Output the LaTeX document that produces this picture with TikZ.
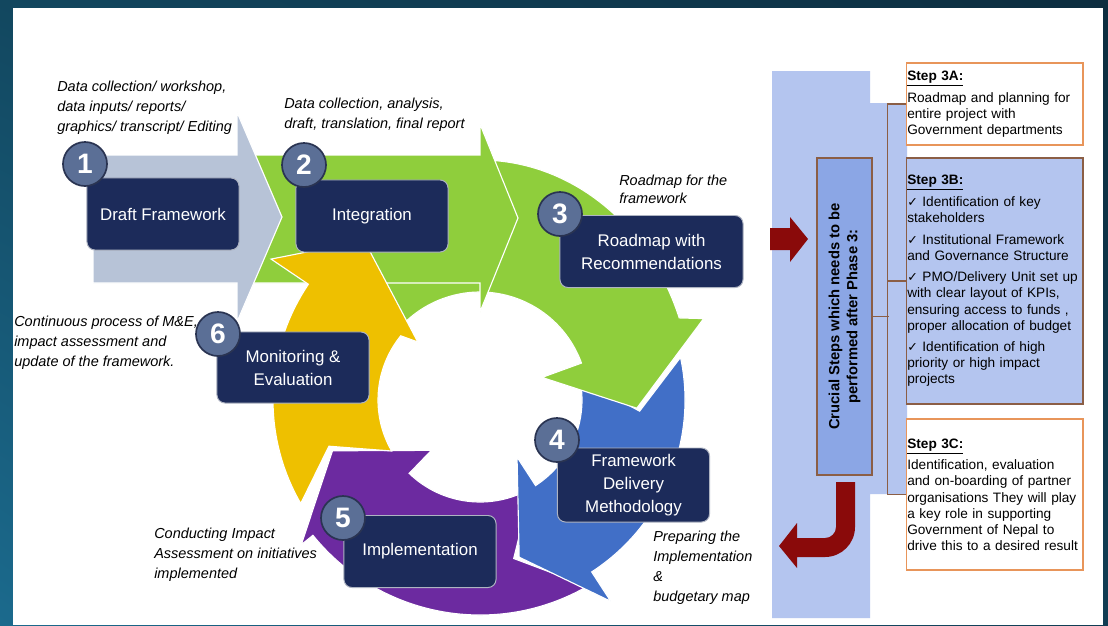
\documentclass[tikz,border=0pt]{standalone}
\usepackage{fontspec}
\setmainfont{Liberation Sans}
\newfontfamily\chkfont{DejaVu Sans}
\usetikzlibrary{calc,shadings}

\definecolor{bgA}{HTML}{12475F}
\definecolor{bgB}{HTML}{0C2D3F}
\definecolor{bgC}{HTML}{1B6A8D}
\definecolor{bgD}{HTML}{113D53}
\definecolor{navy}{HTML}{1C2B5A}
\definecolor{boxrim}{HTML}{AEB4C2}
\definecolor{numfill}{HTML}{5B6F96}
\definecolor{numrim}{HTML}{2A3452}
\definecolor{chevgrey}{HTML}{B7C3D7}
\definecolor{leafgreen}{HTML}{8FCE3C}
\definecolor{ringblue}{HTML}{416FC7}
\definecolor{ringpurple}{HTML}{6C2AA0}
\definecolor{ringyellow}{HTML}{EEC000}
\definecolor{panelblue}{HTML}{B4C5EF}
\definecolor{crucialfill}{HTML}{8BA6E5}
\definecolor{orangerim}{HTML}{E8955A}
\definecolor{brownrim}{HTML}{8B5E45}
\definecolor{darkred}{HTML}{8A0A0A}

\newcommand{\chk}{{\chkfont\fontsize{9}{9}\selectfont ✓}}

\begin{document}
\begin{tikzpicture}[x=0.025cm, y=-0.025cm,
  stage/.style={rectangle, rounded corners=0.2cm, fill=navy, draw=boxrim, line width=0.7pt, text=white,
    font=\fontsize{12}{16.4}\selectfont, align=center, inner ysep=1pt, minimum width=3.8cm, minimum height=1.8cm},
  num/.style={circle, fill=numfill, draw=numrim, line width=1.2pt, text=white,
    font=\fontsize{20}{20}\selectfont\bfseries, minimum size=1.1cm, inner sep=0pt},
  note/.style={anchor=north west, inner sep=0pt, align=left, font=\fontsize{10.3}{14.2}\selectfont\itshape},
  ring/.style={draw=white, line width=0.8pt},
  stepbox/.style={rectangle, draw=orangerim, line width=0.8pt, fill=white, text width=4.36cm,
    inner xsep=0.03cm, align=left, font=\fontsize{9.7}{11.4}\selectfont},
  bracket/.style={draw=brownrim, line width=0.9pt}
]
\useasboundingbox (0,0) rectangle (1108,625);

% background
\shade[upper left=bgA, upper right=bgB, lower left=bgC, lower right=bgD] (0,0) rectangle (1108,625);
\fill[white] (13,8) rectangle (1103,625);

% cycle of arrows
\coordinate (c) at (480,400);

\fill[ringpurple, ring] ($(c)+(60:215)$) arc[start angle=60, end angle=141, radius=215]
  -- ($(c)+(141:230)$) -- ($(c)+(161:156)$) -- ($(c)+(134:70)$) -- ($(c)+(134:102)$)
  arc[start angle=134, end angle=60, radius=102] -- ($(c)+(78:162)$) -- cycle;

\fill[ringblue, ring] ($(c)+(-12:205)$) arc[start angle=-12, end angle=57, radius=205]
  -- ($(c)+(57:240)$) -- ($(c)+(76:162)$) -- ($(c)+(57:68)$) -- ($(c)+(57:102)$)
  arc[start angle=57, end angle=-12, radius=102] -- ($(c)+(4:160)$) -- cycle;

\fill[leafgreen, ring] ($(c)+(225:212 and 240)$) arc[start angle=225, end angle=340, x radius=212, y radius=240]
  -- ($(c)+(340:238)$) -- ($(c)+(3:157)$) -- ($(c)+(340:66)$) -- ($(c)+(340:108)$)
  arc[start angle=340, end angle=225, radius=108] -- cycle;

\fill[leafgreen, ring] (250,155) -- (480,155) -- (480,124) -- (518,218) -- (480,312) -- (480,283) -- (250,283) -- cycle;
\fill[chevgrey, ring] (93,155) -- (237,155) -- (237,112) -- (282,217) -- (237,322) -- (237,283) -- (93,283) -- cycle;

\fill[ringyellow, ring] ($(c)+(150:207)$) arc[start angle=150, end angle=214, radius=207]
  -- ($(c)+(214:252)$) -- ($(c)+(234:197)$) -- ($(c)+(223:85)$) -- ($(c)+(219:102)$)
  arc[start angle=219, end angle=150, radius=102] -- ($(c)+(163:158)$) -- cycle;

% stages
\node[stage] (draft) at (163,214) {Draft Framework};
\node[stage] (integ) at (372,216) {Integration};
\node[stage, minimum width=4.575cm] (roadmap) at (651.5,251.5) {Roadmap with\\Recommendations};
\node[stage, minimum height=1.85cm] (method) at (633.5,485) {Framework\\Delivery\\Methodology};
\node[stage] (impl) at (420,551.5) {Implementation};
\node[stage, minimum height=1.775cm] (monit) at (293,367.5) {Monitoring \&\\Evaluation};

\node[num] (n1) at (85,164) {1};
\node[num] (n2) at (304,165) {2};
\node[num] (n3) at (560,214) {3};
\node[num] (n4) at (557,440) {4};
\node[num] (n5) at (343,518) {5};
\node[num] (n6) at (218,334) {6};

% notes
\node[note] (t1) at (57,81) {Data collection/ workshop,\\data inputs/ reports/\\graphics/ transcript/ Editing};
\node[note] (t2) at (284,98) {Data collection, analysis,\\draft, translation, final report};
\node[note, font=\fontsize{10.3}{12.8}\selectfont\itshape] (t3) at (619,175) {Roadmap for the\\framework};
\node[note] (t4) at (653,531) {Preparing the\\Implementation\\\&\\budgetary map};
\node[note] (t5) at (154,528) {Conducting Impact\\Assessment on initiatives\\implemented};
\node[note] (t6) at (14,316) {Continuous process of M\&E,\\impact assessment and\\update of the framework.};

% right panel
\fill[panelblue] (772,71) -- (870,71) -- (870,103) -- (907,103) -- (907,494) -- (870,494) -- (870,618) -- (772,618) -- cycle;

\fill[darkred] (770,228) -- (790,228) -- (790,217) -- (808,239) -- (790,262) -- (790,250) -- (770,250) -- cycle;
\fill[darkred] (836,482) -- (855,482) -- (855,527) arc[start angle=0, end angle=90, radius=30]
  -- (797,557) -- (797,568) -- (779,546) -- (797,523) -- (797,538) -- (825,538)
  arc[start angle=90, end angle=0, radius=11] -- cycle;

\node[rectangle, draw=brownrim, line width=0.8pt, fill=crucialfill, rotate=90, minimum width=7.925cm,
  minimum height=1.375cm, align=center, font=\fontsize{10.5}{12.8}\selectfont\bfseries] (crucial)
  at (844.5,316.5) {Crucial Steps which needs to be\\performed after Phase 3:};

\node[stepbox, minimum height=2.05cm] (s3a) at (994.5,104)
  {\textbf{\underline{Step 3A:}}\\[4pt]
   Roadmap and planning for\\entire project with\\Government departments};
\node[stepbox, draw=brownrim, fill=panelblue, minimum height=6.15cm] (s3b) at (994.5,281)
  {\textbf{\underline{Step 3B:}}\\[4pt]
   \chk{} Identification of key\\stakeholders\\[4pt]
   \chk{} Institutional Framework\\and Governance Structure\\[4pt]
   \chk{} PMO/Delivery Unit set up\\with clear layout of KPIs,\\ensuring access to funds ,\\proper allocation of budget\\[4pt]
   \chk{} Identification of high\\priority or high impact\\projects};
\node[stepbox, minimum height=3.775cm] (s3c) at (994.5,494.5)
  {\textbf{\underline{Step 3C:}}\\[4pt]
   Identification, evaluation\\and on-boarding of partner\\organisations They will play\\a key role in supporting\\Government of Nepal to\\drive this to a desired result};

\draw[bracket] (s3a.west) -- ++(-18,0) |- (s3c.west);
\draw[bracket] (s3b.west) -- ++(-18,0);
\draw[bracket] (crucial.south) -- ++(16,0);
\end{tikzpicture}
\end{document}
